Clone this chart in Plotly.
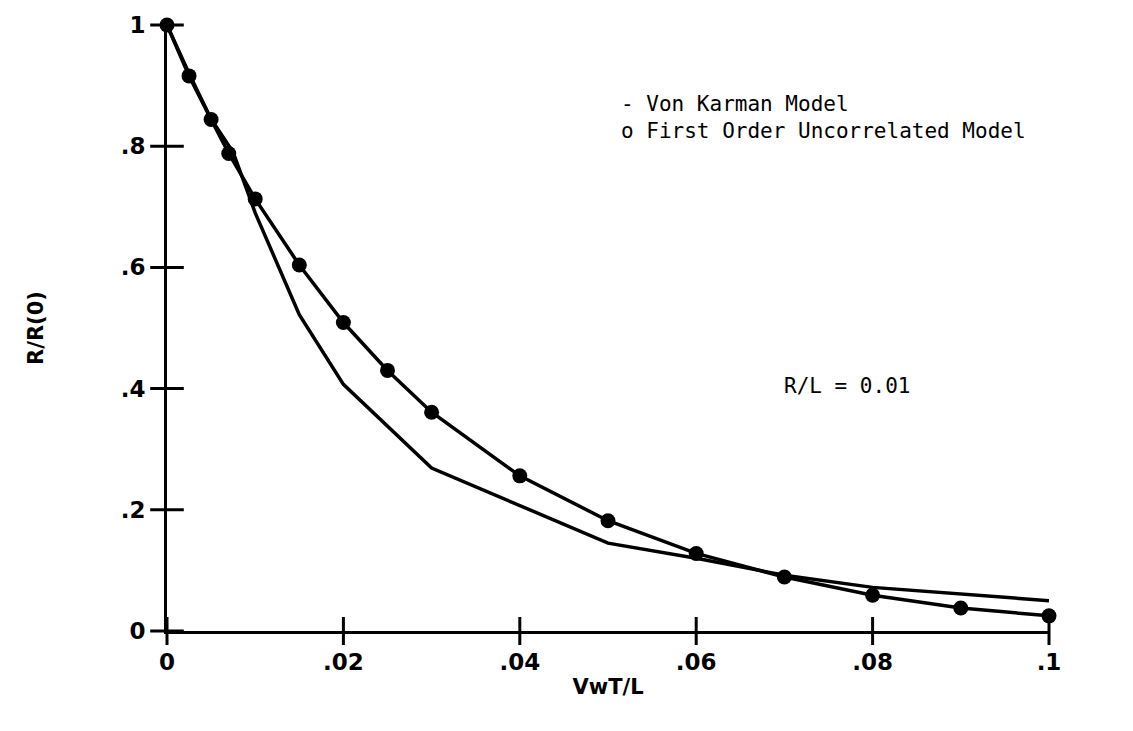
import plotly.graph_objects as go

# Von Karman model (solid line)
vk_x = [0, 0.0025, 0.005, 0.0075, 0.01, 0.015, 0.02, 0.03, 0.05, 0.06, 0.07, 0.08, 0.1]
vk_y = [1.0, 0.92, 0.845, 0.79, 0.69, 0.522, 0.407, 0.269, 0.145, 0.12, 0.092, 0.072, 0.05]

# First order uncorrelated model (line with circles)
fo_x = [0, 0.0025, 0.005, 0.007, 0.01, 0.015, 0.02, 0.025, 0.03, 0.04, 0.05, 0.06, 0.07, 0.08, 0.09, 0.1]
fo_y = [1.0, 0.916, 0.844, 0.788, 0.713, 0.604, 0.509, 0.430, 0.361, 0.256, 0.182, 0.128, 0.089, 0.059, 0.038, 0.025]

x_ticks = [0, 0.02, 0.04, 0.06, 0.08, 0.1]
x_tick_text = ["0", ".02", ".04", ".06", ".08", ".1"]
y_ticks = [0, 0.2, 0.4, 0.6, 0.8, 1.0]
y_tick_text = ["0", ".2", ".4", ".6", ".8", "1"]

ink = "#000000"
tick_font = dict(family="DejaVu Sans", size=23, color=ink, weight="bold")
title_font = dict(family="DejaVu Sans", size=21, color=ink, weight="bold")
mono = dict(family="DejaVu Sans Mono", size=21, color=ink)

fig = go.Figure()

# Tick marks that cross the axis lines, drawn as line-shaped markers
fig.add_trace(go.Scatter(x=x_ticks, y=[0] * len(x_ticks), mode="markers",
                         marker=dict(symbol="line-ns-open", size=20, color=ink,
                                     line=dict(color=ink, width=3)),
                         cliponaxis=False, showlegend=False, hoverinfo="skip"))
fig.add_trace(go.Scatter(x=[0] * len(y_ticks), y=y_ticks, mode="markers",
                         marker=dict(symbol="line-ew-open", size=24, color=ink,
                                     line=dict(color=ink, width=3)),
                         cliponaxis=False, showlegend=False, hoverinfo="skip"))

fig.add_trace(go.Scatter(x=vk_x, y=vk_y, mode="lines",
                         line=dict(color=ink, width=3.5), cliponaxis=False,
                         showlegend=False))
fig.add_trace(go.Scatter(x=fo_x, y=fo_y, mode="lines+markers",
                         line=dict(color=ink, width=3.5),
                         marker=dict(color=ink, size=15, symbol="circle"),
                         cliponaxis=False, showlegend=False))

annotations = [
    dict(x=0.0513, y=0.847, xref="x", yref="y", xanchor="left", yanchor="middle",
         align="left", showarrow=False, font=mono,
         text="- Von Karman Model<br>o First Order Uncorrelated Model"),
    dict(x=0.0697, y=0.404, xref="x", yref="y", xanchor="left", yanchor="middle",
         showarrow=False, font=mono, text="R/L = 0.01"),
]

axis_common = dict(showgrid=False, zeroline=False, showline=True,
                   linecolor=ink, linewidth=3, ticks="")

fig.update_layout(
    width=1133, height=731,
    margin=dict(l=167, r=84, t=22, b=100),
    paper_bgcolor="white", plot_bgcolor="white",
    annotations=annotations,
    xaxis=dict(range=[0, 0.1], tickvals=x_ticks, ticktext=x_tick_text,
               tickfont=tick_font, ticklabelstandoff=8,
               title=dict(text="VwT/L", font=title_font, standoff=6),
               **axis_common),
    yaxis=dict(range=[0, 1], tickvals=y_ticks, ticktext=y_tick_text,
               tickfont=tick_font, ticklabelstandoff=14,
               title=dict(text="R/R(0)", font=title_font, standoff=72),
               **axis_common),
)

fig.write_html("out.html")
